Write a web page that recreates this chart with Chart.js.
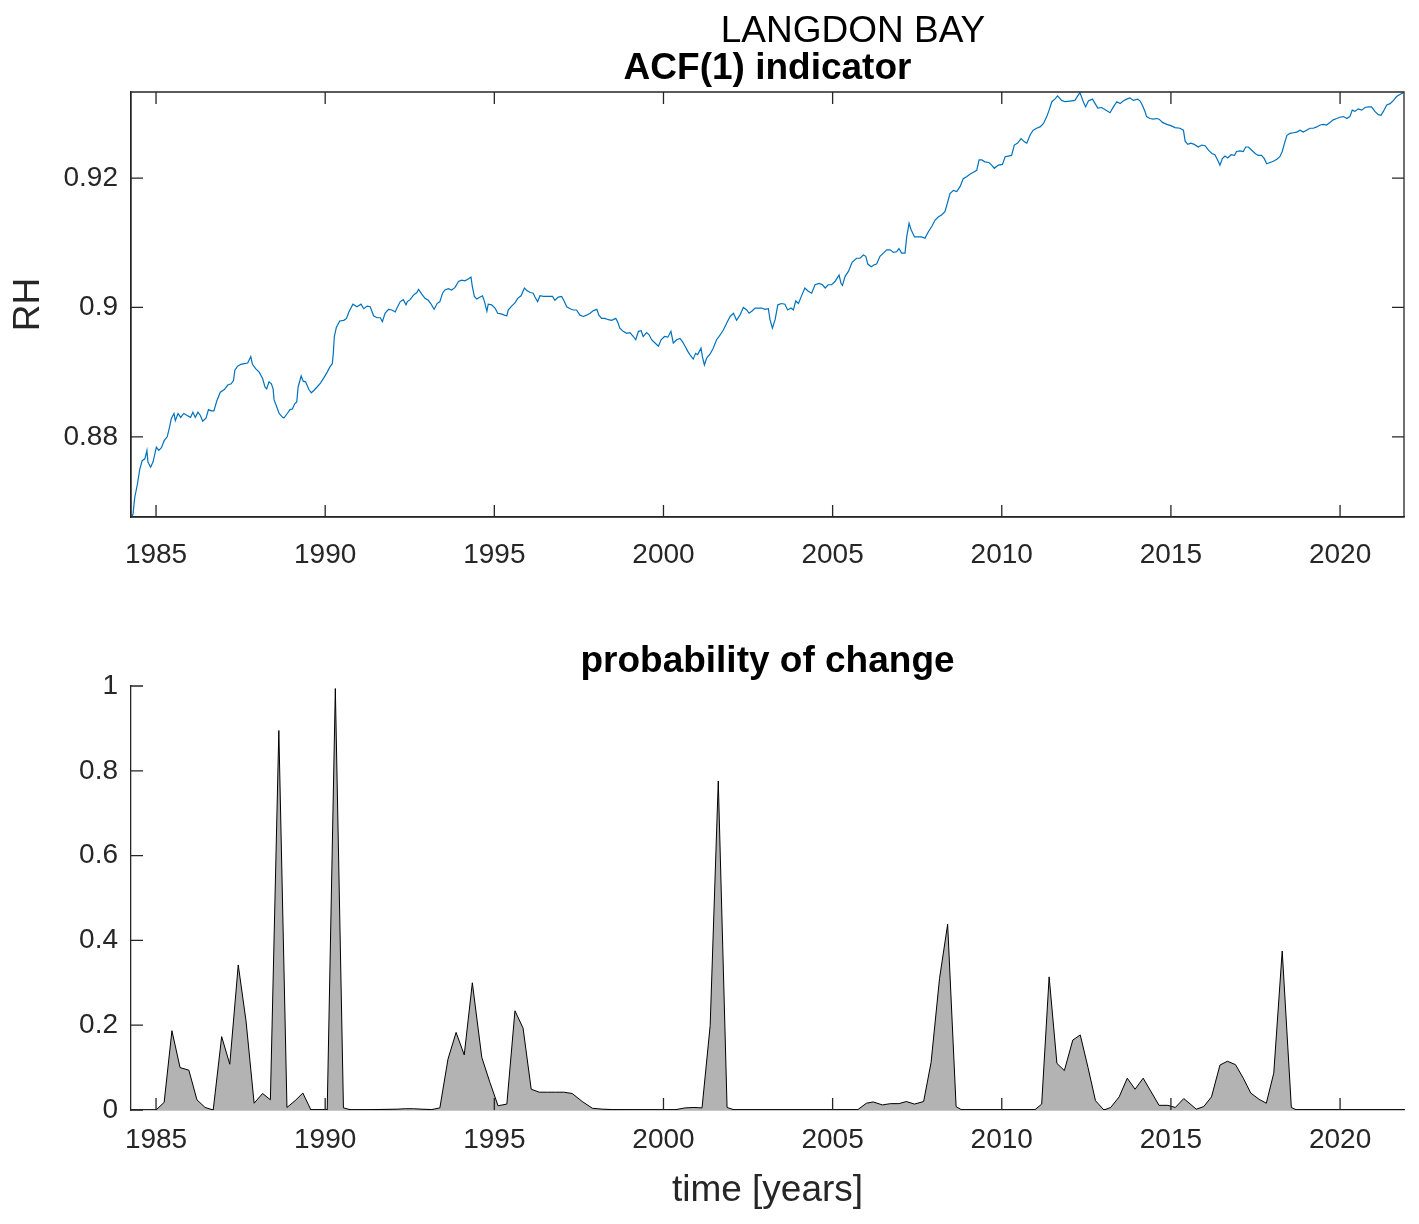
<!DOCTYPE html>
<html>
<head>
<meta charset="utf-8">
<title>LANGDON BAY</title>
<script src="https://cdn.jsdelivr.net/npm/chart.js@4.4.0/dist/chart.umd.min.js"></script>
<style>
  body { margin: 0; background: #fff; }
  #page { position: relative; width: 1419px; height: 1224px; background: #fff; }
  .panel { position: absolute; left: 0; }
  .panel canvas { display: block; }
</style>
</head>
<body>
<div id="page">
  <div class="panel" style="top:0"><canvas id="acf-chart" width="1419" height="590"></canvas></div>
  <div class="panel" style="top:590px"><canvas id="prob-chart" width="1419" height="634"></canvas></div>
</div>
<script>
'use strict';

// time axis shared by both panels
var yearRange = [1984.26, 2021.89];
var yearTicks = [1985, 1990, 1995, 2000, 2005, 2010, 2015, 2020];

// ACF(1) indicator
var acfRange = [0.8676, 0.9333];
var acfTicks = [0.88, 0.9, 0.92];
var acfYears = [
    1984.29, 1984.32, 1984.37, 1984.45, 1984.52, 1984.59, 1984.67, 1984.73, 1984.76, 1984.84,
    1984.91, 1985.01, 1985.08, 1985.16, 1985.24, 1985.33, 1985.40, 1985.45, 1985.53, 1985.57,
    1985.65, 1985.73, 1985.82, 1985.92, 1986.02, 1986.09, 1986.16, 1986.24, 1986.31, 1986.38,
    1986.48, 1986.55, 1986.63, 1986.71, 1986.80, 1986.90, 1987.02, 1987.12, 1987.22, 1987.29,
    1987.33, 1987.41, 1987.51, 1987.61, 1987.71, 1987.80, 1987.85, 1987.95, 1988.05, 1988.15,
    1988.22, 1988.27, 1988.34, 1988.41, 1988.46, 1988.49, 1988.57, 1988.64, 1988.74, 1988.78,
    1988.88, 1988.96, 1989.03, 1989.10, 1989.16, 1989.20, 1989.29, 1989.35, 1989.42, 1989.52,
    1989.59, 1989.67, 1989.76, 1989.86, 1989.96, 1990.06, 1990.14, 1990.21, 1990.24, 1990.27,
    1990.33, 1990.43, 1990.55, 1990.63, 1990.70, 1990.82, 1990.94, 1991.06, 1991.14, 1991.24,
    1991.33, 1991.43, 1991.53, 1991.63, 1991.69, 1991.77, 1991.87, 1991.97, 1992.07, 1992.14,
    1992.22, 1992.31, 1992.39, 1992.43, 1992.51, 1992.61, 1992.71, 1992.76, 1992.85, 1992.95,
    1993.05, 1993.12, 1993.22, 1993.31, 1993.39, 1993.47, 1993.54, 1993.64, 1993.74, 1993.84,
    1993.94, 1994.04, 1994.13, 1994.23, 1994.31, 1994.35, 1994.41, 1994.48, 1994.58, 1994.65,
    1994.71, 1994.78, 1994.82, 1994.92, 1995.02, 1995.10, 1995.20, 1995.30, 1995.37, 1995.41,
    1995.51, 1995.61, 1995.69, 1995.79, 1995.89, 1995.96, 1996.06, 1996.15, 1996.20, 1996.28,
    1996.35, 1996.45, 1996.55, 1996.65, 1996.72, 1996.79, 1996.89, 1996.99, 1997.07, 1997.14,
    1997.24, 1997.34, 1997.43, 1997.53, 1997.63, 1997.73, 1997.83, 1997.93, 1998.03, 1998.09,
    1998.17, 1998.27, 1998.37, 1998.47, 1998.59, 1998.65, 1998.71, 1998.81, 1998.91, 1999.01,
    1999.11, 1999.18, 1999.26, 1999.34, 1999.40, 1999.50, 1999.57, 1999.65, 1999.75, 1999.85,
    1999.93, 2000.03, 2000.13, 2000.22, 2000.29, 2000.39, 2000.49, 2000.56, 2000.64, 2000.72,
    2000.78, 2000.88, 2000.95, 2001.01, 2001.11, 2001.15, 2001.21, 2001.28, 2001.38, 2001.47,
    2001.57, 2001.67, 2001.77, 2001.87, 2001.97, 2002.07, 2002.16, 2002.26, 2002.36, 2002.46,
    2002.53, 2002.61, 2002.71, 2002.80, 2002.90, 2003.00, 2003.10, 2003.15, 2003.22, 2003.30,
    2003.38, 2003.49, 2003.59, 2003.67, 2003.77, 2003.84, 2003.91, 2003.99, 2004.09, 2004.18,
    2004.28, 2004.38, 2004.48, 2004.60, 2004.70, 2004.78, 2004.87, 2004.97, 2005.07, 2005.19,
    2005.25, 2005.29, 2005.37, 2005.47, 2005.58, 2005.71, 2005.81, 2005.91, 2005.98, 2006.04,
    2006.14, 2006.23, 2006.30, 2006.40, 2006.50, 2006.60, 2006.70, 2006.80, 2006.89, 2006.96,
    2007.04, 2007.14, 2007.19, 2007.26, 2007.32, 2007.42, 2007.53, 2007.63, 2007.73, 2007.83,
    2007.93, 2008.03, 2008.13, 2008.22, 2008.32, 2008.37, 2008.47, 2008.57, 2008.67, 2008.77,
    2008.86, 2008.96, 2009.06, 2009.16, 2009.26, 2009.33, 2009.41, 2009.50, 2009.62, 2009.70,
    2009.78, 2009.90, 2010.02, 2010.10, 2010.19, 2010.29, 2010.37, 2010.47, 2010.57, 2010.67,
    2010.74, 2010.84, 2010.93, 2011.03, 2011.13, 2011.23, 2011.33, 2011.40, 2011.48, 2011.57,
    2011.65, 2011.77, 2011.87, 2012.02, 2012.16, 2012.31, 2012.41, 2012.48, 2012.56, 2012.68,
    2012.76, 2012.84, 2012.95, 2013.07, 2013.20, 2013.30, 2013.40, 2013.50, 2013.59, 2013.69,
    2013.79, 2013.89, 2014.02, 2014.09, 2014.16, 2014.24, 2014.28, 2014.38, 2014.48, 2014.58,
    2014.65, 2014.75, 2014.88, 2015.00, 2015.12, 2015.27, 2015.37, 2015.42, 2015.50, 2015.59,
    2015.69, 2015.81, 2015.91, 2016.01, 2016.11, 2016.21, 2016.30, 2016.38, 2016.45, 2016.52,
    2016.60, 2016.68, 2016.78, 2016.88, 2016.94, 2017.04, 2017.14, 2017.21, 2017.29, 2017.39,
    2017.49, 2017.58, 2017.68, 2017.76, 2017.83, 2017.93, 2018.03, 2018.13, 2018.22, 2018.29,
    2018.37, 2018.43, 2018.52, 2018.62, 2018.72, 2018.82, 2018.91, 2019.01, 2019.11, 2019.21,
    2019.31, 2019.41, 2019.51, 2019.60, 2019.70, 2019.80, 2019.90, 2019.99, 2020.10, 2020.20,
    2020.29, 2020.36, 2020.44, 2020.54, 2020.64, 2020.74, 2020.84, 2020.93, 2021.03, 2021.13,
    2021.21, 2021.28, 2021.38, 2021.48, 2021.58, 2021.67, 2021.77, 2021.87
];
var acfValues = [
    0.8676, 0.8681, 0.8706, 0.8727, 0.8750, 0.8763, 0.8766, 0.8779, 0.8761, 0.8753,
    0.8761, 0.8784, 0.8779, 0.8783, 0.8794, 0.8800, 0.8815, 0.8828, 0.8836, 0.8825,
    0.8836, 0.8830, 0.8836, 0.8833, 0.8830, 0.8838, 0.8830, 0.8838, 0.8833, 0.8824,
    0.8829, 0.8842, 0.8840, 0.8840, 0.8856, 0.8869, 0.8873, 0.8880, 0.8882, 0.8887,
    0.8903, 0.8909, 0.8912, 0.8913, 0.8914, 0.8924, 0.8912, 0.8905, 0.8900, 0.8890,
    0.8877, 0.8874, 0.8885, 0.8882, 0.8874, 0.8857, 0.8846, 0.8836, 0.8830, 0.8829,
    0.8836, 0.8842, 0.8843, 0.8851, 0.8854, 0.8877, 0.8894, 0.8886, 0.8885, 0.8873,
    0.8868, 0.8872, 0.8877, 0.8883, 0.8891, 0.8900, 0.8908, 0.8913, 0.8929, 0.8955,
    0.8969, 0.8979, 0.8980, 0.8983, 0.8993, 0.9005, 0.9001, 0.9005, 0.8998, 0.9002,
    0.9001, 0.8987, 0.8984, 0.8984, 0.8978, 0.8991, 0.8997, 0.8996, 0.8993, 0.9001,
    0.9009, 0.9012, 0.9004, 0.9009, 0.9012, 0.9019, 0.9023, 0.9028, 0.9021, 0.9014,
    0.9011, 0.9006, 0.8997, 0.9006, 0.9009, 0.9022, 0.9027, 0.9029, 0.9027, 0.9031,
    0.9040, 0.9042, 0.9041, 0.9044, 0.9047, 0.9032, 0.9017, 0.9013, 0.9016, 0.9018,
    0.9009, 0.8994, 0.9005, 0.9004, 0.8999, 0.8991, 0.8990, 0.8988, 0.8987, 0.8996,
    0.9002, 0.9007, 0.9014, 0.9018, 0.9030, 0.9026, 0.9023, 0.9022, 0.9016, 0.9009,
    0.9018, 0.9017, 0.9017, 0.9017, 0.9017, 0.9011, 0.9016, 0.9017, 0.9009, 0.9001,
    0.8998, 0.8996, 0.8996, 0.8988, 0.8986, 0.8988, 0.8991, 0.8995, 0.8997, 0.8988,
    0.8983, 0.8983, 0.8981, 0.8980, 0.8983, 0.8977, 0.8968, 0.8963, 0.8960, 0.8961,
    0.8955, 0.8950, 0.8963, 0.8964, 0.8955, 0.8961, 0.8958, 0.8950, 0.8945, 0.8940,
    0.8950, 0.8955, 0.8954, 0.8963, 0.8945, 0.8950, 0.8952, 0.8947, 0.8940, 0.8932,
    0.8927, 0.8920, 0.8929, 0.8927, 0.8937, 0.8924, 0.8911, 0.8922, 0.8928, 0.8937,
    0.8950, 0.8957, 0.8965, 0.8976, 0.8986, 0.8991, 0.8980, 0.8988, 0.9000, 0.8996,
    0.8991, 0.8994, 0.8999, 0.8999, 0.8999, 0.8997, 0.8998, 0.8981, 0.8968, 0.8981,
    0.9004, 0.9006, 0.9005, 0.8996, 0.8999, 0.8996, 0.9010, 0.9006, 0.9019, 0.9030,
    0.9025, 0.9022, 0.9035, 0.9037, 0.9035, 0.9030, 0.9035, 0.9035, 0.9040, 0.9050,
    0.9037, 0.9034, 0.9048, 0.9056, 0.9070, 0.9076, 0.9076, 0.9081, 0.9079, 0.9067,
    0.9063, 0.9066, 0.9067, 0.9079, 0.9084, 0.9089, 0.9089, 0.9085, 0.9086, 0.9091,
    0.9084, 0.9084, 0.9109, 0.9130, 0.9120, 0.9109, 0.9109, 0.9109, 0.9107, 0.9117,
    0.9125, 0.9135, 0.9140, 0.9143, 0.9148, 0.9157, 0.9176, 0.9181, 0.9179, 0.9187,
    0.9199, 0.9202, 0.9206, 0.9209, 0.9212, 0.9228, 0.9228, 0.9225, 0.9224, 0.9220,
    0.9215, 0.9220, 0.9221, 0.9233, 0.9234, 0.9235, 0.9251, 0.9254, 0.9261, 0.9256,
    0.9254, 0.9267, 0.9274, 0.9277, 0.9279, 0.9284, 0.9295, 0.9305, 0.9318, 0.9322,
    0.9327, 0.9320, 0.9318, 0.9319, 0.9320, 0.9332, 0.9318, 0.9310, 0.9319, 0.9322,
    0.9315, 0.9308, 0.9309, 0.9305, 0.9301, 0.9310, 0.9318, 0.9315, 0.9319, 0.9322,
    0.9324, 0.9320, 0.9322, 0.9319, 0.9312, 0.9302, 0.9295, 0.9292, 0.9291, 0.9292,
    0.9291, 0.9286, 0.9283, 0.9281, 0.9278, 0.9277, 0.9274, 0.9257, 0.9252, 0.9254,
    0.9252, 0.9248, 0.9251, 0.9250, 0.9243, 0.9238, 0.9236, 0.9228, 0.9220, 0.9230,
    0.9234, 0.9231, 0.9236, 0.9235, 0.9241, 0.9242, 0.9241, 0.9248, 0.9248, 0.9243,
    0.9238, 0.9235, 0.9235, 0.9230, 0.9222, 0.9224, 0.9226, 0.9229, 0.9233, 0.9241,
    0.9256, 0.9266, 0.9269, 0.9270, 0.9271, 0.9274, 0.9271, 0.9274, 0.9277, 0.9277,
    0.9279, 0.9282, 0.9283, 0.9282, 0.9286, 0.9290, 0.9292, 0.9294, 0.9295, 0.9292,
    0.9295, 0.9305, 0.9303, 0.9307, 0.9305, 0.9309, 0.9310, 0.9310, 0.9303, 0.9298,
    0.9297, 0.9303, 0.9313, 0.9315, 0.9320, 0.9326, 0.9329, 0.9332
];

// probability of change (bottom panel)
var probTicks = [0, 0.2, 0.4, 0.6, 0.8, 1];
var probYears = [
    1985.00, 1985.24, 1985.47, 1985.71, 1985.97, 1986.21, 1986.45, 1986.69, 1986.94, 1987.18,
    1987.43, 1987.66, 1987.90, 1988.15, 1988.38, 1988.63, 1988.87, 1989.11, 1989.34, 1989.58,
    1990.06, 1990.30, 1990.54, 1990.78, 1992.13, 1992.37, 1992.61, 1992.85, 1993.15, 1993.39,
    1993.63, 1993.87, 1994.11, 1994.35, 1994.63, 1994.87, 1995.11, 1995.37, 1995.61, 1995.85,
    1996.09, 1996.33, 1996.57, 1996.81, 1997.05, 1997.30, 1997.60, 1997.90, 1998.20, 1998.50,
    2000.30, 2000.64, 2000.90, 2001.14, 2001.38, 2001.62, 2001.88, 2002.10, 2005.73, 2006.00,
    2006.20, 2006.47, 2006.71, 2006.96, 2007.18, 2007.42, 2007.69, 2007.91, 2008.16, 2008.40,
    2008.65, 2008.82, 2010.97, 2011.18, 2011.40, 2011.63, 2011.85, 2012.10, 2012.32, 2012.55,
    2012.77, 2013.02, 2013.22, 2013.47, 2013.71, 2013.94, 2014.18, 2014.40, 2014.65, 2014.91,
    2015.13, 2015.38, 2015.75, 2015.97, 2016.20, 2016.45, 2016.67, 2016.91, 2017.14, 2017.36,
    2017.61, 2017.82, 2018.04, 2018.29, 2018.56, 2018.72, 2021.89
];
var probValues = [
    0, 0.018, 0.187, 0.100, 0.094, 0.024, 0.006, 0, 0.173, 0.108,
    0.342, 0.210, 0.016, 0.039, 0.024, 0.895, 0.006, 0.022, 0.040, 0,
    0, 0.994, 0.005, 0, 0.002, 0.003, 0.003, 0.002, 0.001, 0.005,
    0.120, 0.183, 0.130, 0.300, 0.124, 0.065, 0.010, 0.014, 0.234, 0.193,
    0.049, 0.042, 0.042, 0.042, 0.042, 0.039, 0.020, 0.004, 0.002, 0.001,
    0, 0.005, 0.006, 0.005, 0.199, 0.776, 0.006, 0, 0, 0.016,
    0.019, 0.012, 0.015, 0.015, 0.020, 0.014, 0.020, 0.112, 0.310, 0.438,
    0.008, 0, 0, 0.014, 0.314, 0.110, 0.093, 0.165, 0.177, 0.100,
    0.022, 0, 0.006, 0.031, 0.075, 0.049, 0.075, 0.045, 0.011, 0.011,
    0.006, 0.027, 0.002, 0.008, 0.031, 0.106, 0.115, 0.107, 0.075, 0.040,
    0.025, 0.016, 0.087, 0.375, 0.006, 0, 0
];

var FONT = '"Liberation Sans", Arial, Helvetica, sans-serif';
var axisColor = '#262626';

function toPoints(xs, ys) {
    return xs.map(function(x, i) {
        return {x: x, y: ys[i]};
    });
}

function fixedTicks(values) {
    return function(scale) {
        scale.ticks = values.map(function(v) { return {value: v}; });
    };
}

// inward tick marks, optional box and the panel titles
var axesFrame = {
    id: 'axesFrame',
    afterDraw: function(chart, args, opts) {
        var ctx = chart.ctx;
        var area = chart.chartArea;
        var xs = chart.scales.x;
        var ys = chart.scales.y;
        var len = opts.tickLen;
        ctx.save();
        ctx.strokeStyle = axisColor;
        ctx.lineWidth = 1.3;
        ctx.beginPath();
        xs.ticks.forEach(function(t) {
            var px = xs.getPixelForValue(t.value);
            ctx.moveTo(px, area.bottom);
            ctx.lineTo(px, area.bottom - len);
            if (opts.box) {
                ctx.moveTo(px, area.top);
                ctx.lineTo(px, area.top + len);
            }
        });
        ys.ticks.forEach(function(t) {
            var py = ys.getPixelForValue(t.value);
            ctx.moveTo(area.left, py);
            ctx.lineTo(area.left + len, py);
            if (opts.box) {
                ctx.moveTo(area.right, py);
                ctx.lineTo(area.right - len, py);
            }
        });
        if (opts.box) {
            ctx.rect(area.left, area.top, area.right - area.left, area.bottom - area.top);
        }
        ctx.stroke();

        ctx.fillStyle = '#000';
        ctx.textAlign = 'center';
        ctx.textBaseline = 'alphabetic';
        (opts.labels || []).forEach(function(l) {
            ctx.font = l.font;
            var x = l.x == null ? (area.left + area.right) / 2 : l.x;
            ctx.fillText(l.text, x, l.y);
        });
        ctx.restore();
    }
};

function timeAxis(height, pad, title) {
    return {
        type: 'linear',
        min: yearRange[0],
        max: yearRange[1],
        afterBuildTicks: fixedTicks(yearTicks),
        afterFit: function(s) { s.height = height; },
        grid: {display: false, drawTicks: false},
        border: {display: true, color: axisColor, width: 1.3},
        ticks: {
            color: axisColor,
            padding: pad,
            autoSkip: false,
            maxRotation: 0,
            font: {family: FONT, size: 28},
            callback: function(v) { return String(v); }
        },
        title: title
    };
}

function valueAxis(min, max, ticks, title) {
    return {
        type: 'linear',
        min: min,
        max: max,
        afterBuildTicks: fixedTicks(ticks),
        afterFit: function(s) { s.width = 131; },
        grid: {display: false, drawTicks: false},
        border: {display: true, color: axisColor, width: 1.3},
        ticks: {
            color: axisColor,
            padding: 13,
            font: {family: FONT, size: 28},
            callback: function(v) { return String(+v.toFixed(4)); }
        },
        title: title
    };
}

var acfConfig = {
    type: 'line',
    data: {
        datasets: [{
            label: 'ACF(1)',
            data: toPoints(acfYears, acfValues),
            borderColor: '#0072BD',
            borderWidth: 1.2,
            pointRadius: 0,
            fill: false,
            tension: 0
        }]
    },
    options: {
        responsive: false,
        animation: false,
        layout: {padding: {left: 0, right: 15, top: 92, bottom: 0}},
        scales: {
            x: timeAxis(73, 21, {display: false}),
            y: valueAxis(acfRange[0], acfRange[1], acfTicks, {
                display: true,
                text: 'RH',
                color: axisColor,
                font: {family: FONT, size: 37},
                padding: {top: 7, bottom: 0}
            })
        },
        plugins: {
            legend: {display: false},
            tooltip: {enabled: false},
            axesFrame: {
                tickLen: 12,
                box: true,
                labels: [
                    {text: 'LANGDON BAY', x: 853, y: 42, font: '37px ' + FONT},
                    {text: 'ACF(1) indicator', x: null, y: 79, font: 'bold 37px ' + FONT}
                ]
            }
        }
    },
    plugins: [axesFrame]
};

var probConfig = {
    type: 'line',
    data: {
        datasets: [{
            label: 'probability of change',
            data: toPoints(probYears, probValues),
            borderColor: '#000000',
            borderWidth: 1,
            backgroundColor: '#b3b3b3',
            pointRadius: 0,
            fill: 'origin',
            tension: 0
        }]
    },
    options: {
        responsive: false,
        animation: false,
        layout: {padding: {left: 0, right: 15, top: 96, bottom: 0}},
        scales: {
            x: timeAxis(114, 13, {
                display: true,
                text: 'time [years]',
                color: axisColor,
                font: {family: FONT, size: 37},
                padding: {top: 0, bottom: 11}
            }),
            y: valueAxis(0, 1, probTicks, {display: false})
        },
        plugins: {
            legend: {display: false},
            tooltip: {enabled: false},
            axesFrame: {
                tickLen: 12,
                box: false,
                labels: [
                    {text: 'probability of change', x: null, y: 82, font: 'bold 37px ' + FONT}
                ]
            }
        }
    },
    plugins: [axesFrame]
};

window.acfChart = new Chart(document.getElementById('acf-chart').getContext('2d'), acfConfig);
window.probChart = new Chart(document.getElementById('prob-chart').getContext('2d'), probConfig);
</script>
</body>
</html>
